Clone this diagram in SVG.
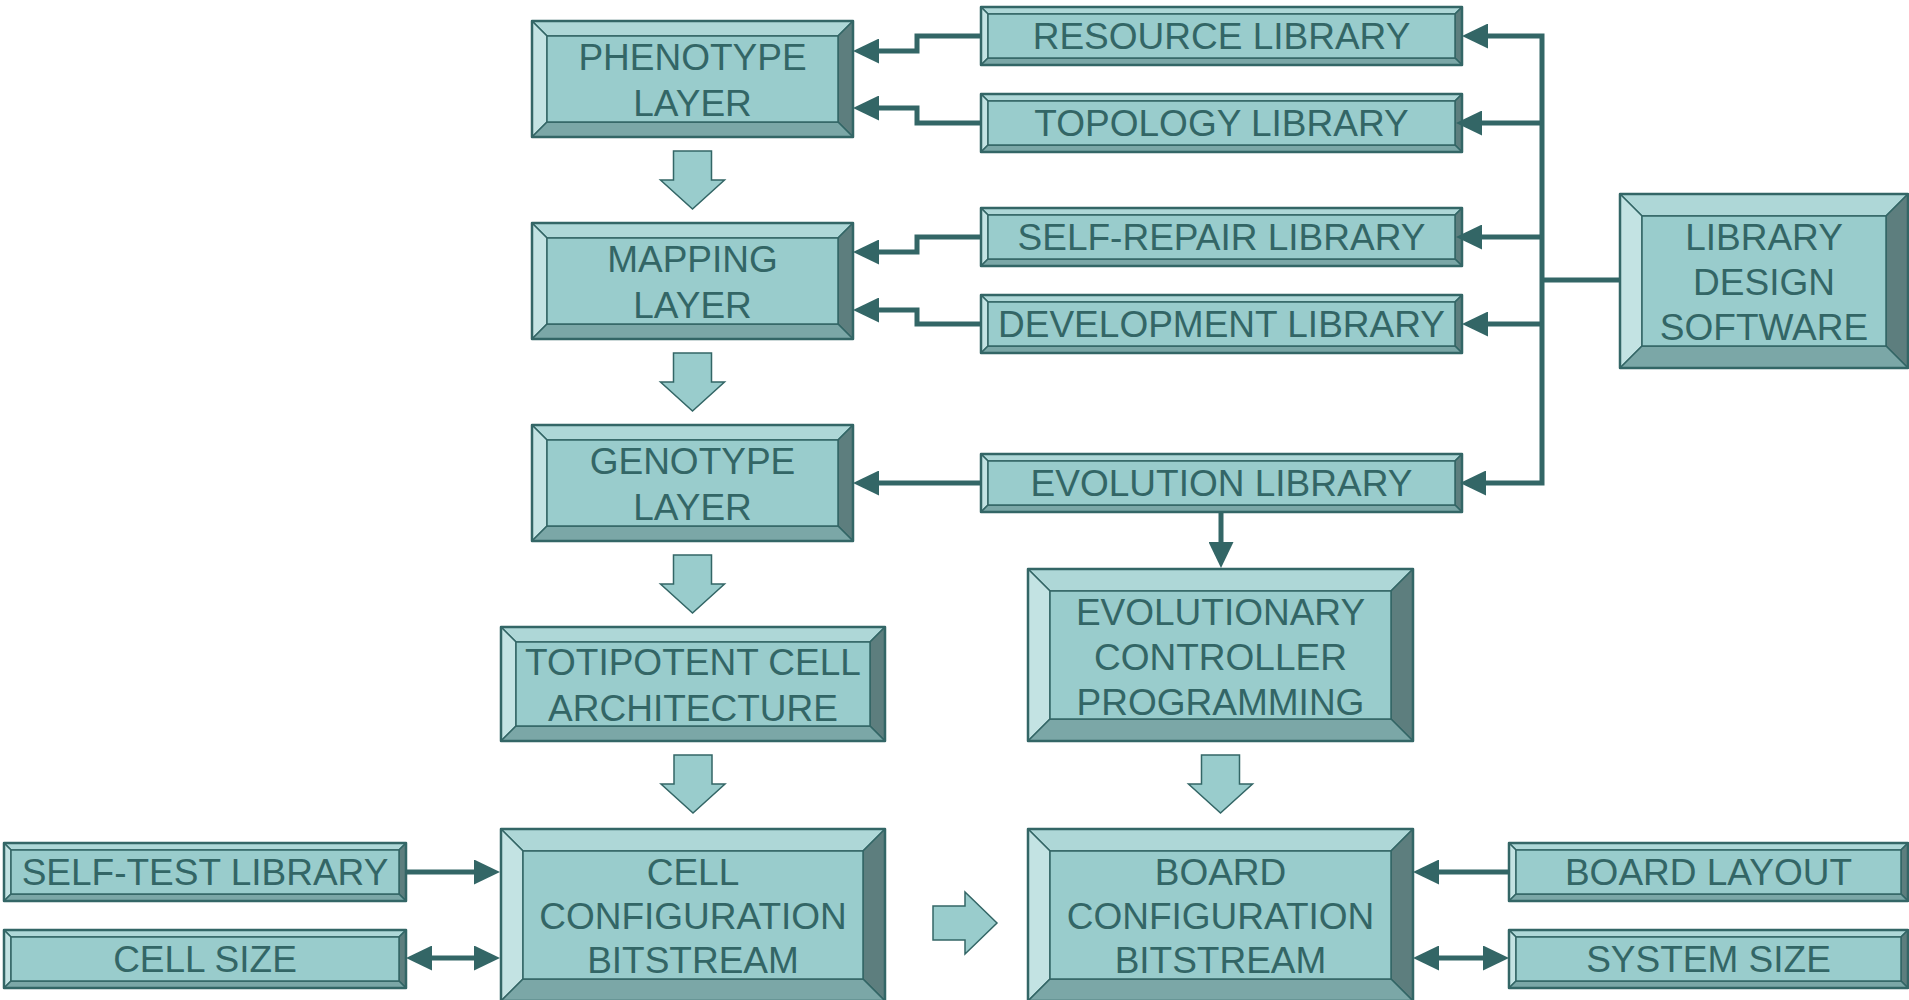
<svg xmlns="http://www.w3.org/2000/svg" width="1909" height="1000" viewBox="0 0 1909 1000">
  <style>
    .t { fill: #AED7D7; }
    .l { fill: #C3E3E3; }
    .r { fill: #5D7E7E; }
    .b { fill: #7BA7A7; }
    .f { fill: #99CCCC; }
    .node path, .node rect { stroke: #336666; stroke-width: 1.5; stroke-linejoin: round; }
    .node rect.o { fill: none; stroke-width: 2.5; }
    .node text { font-family: "Liberation Sans", Arial, sans-serif; font-size: 37px; fill: #336666; text-anchor: middle; }
    .flow { fill: #99CCCC; stroke: #336666; stroke-width: 1.5; stroke-linejoin: miter; }
    .conn path { fill: none; stroke: #336666; stroke-width: 5; }
    .conn .a { marker-end: url(#arrow); }
    .conn .aa { marker-start: url(#arrow); marker-end: url(#arrow); }
  </style>
  <defs>
    <marker id="arrow" viewBox="0 0 26 25" refX="16" refY="12.5" markerWidth="26" markerHeight="25" markerUnits="userSpaceOnUse" orient="auto-start-reverse">
      <path d="M0,0 L26,12.5 L0,25 z" fill="#336666"/>
    </marker>
  </defs>

  <rect width="1909" height="1000" fill="#ffffff"/>

  <!-- Main chain, left column -->
  <g id="phenotype-layer" class="node">
    <path class="t" d="M532,21 H853 L838,36 H547 Z"/>
    <path class="l" d="M532,21 L547,36 V122 L532,137 Z"/>
    <path class="r" d="M853,21 V137 L838,122 V36 Z"/>
    <path class="b" d="M532,137 L547,122 H838 L853,137 Z"/>
    <rect class="f" x="547" y="36" width="291" height="86"/>
    <rect class="o" x="532" y="21" width="321" height="116"/>
    <text x="692.5" y="70">PHENOTYPE</text>
    <text x="692.5" y="116">LAYER</text>
  </g>

  <g id="mapping-layer" class="node">
    <path class="t" d="M532,223 H853 L838,238 H547 Z"/>
    <path class="l" d="M532,223 L547,238 V324 L532,339 Z"/>
    <path class="r" d="M853,223 V339 L838,324 V238 Z"/>
    <path class="b" d="M532,339 L547,324 H838 L853,339 Z"/>
    <rect class="f" x="547" y="238" width="291" height="86"/>
    <rect class="o" x="532" y="223" width="321" height="116"/>
    <text x="692.5" y="272">MAPPING</text>
    <text x="692.5" y="318">LAYER</text>
  </g>

  <g id="genotype-layer" class="node">
    <path class="t" d="M532,425 H853 L838,440 H547 Z"/>
    <path class="l" d="M532,425 L547,440 V526 L532,541 Z"/>
    <path class="r" d="M853,425 V541 L838,526 V440 Z"/>
    <path class="b" d="M532,541 L547,526 H838 L853,541 Z"/>
    <rect class="f" x="547" y="440" width="291" height="86"/>
    <rect class="o" x="532" y="425" width="321" height="116"/>
    <text x="692.5" y="474">GENOTYPE</text>
    <text x="692.5" y="520">LAYER</text>
  </g>

  <g id="totipotent-cell-architecture" class="node">
    <path class="t" d="M501,627 H885 L870,642 H516 Z"/>
    <path class="l" d="M501,627 L516,642 V726 L501,741 Z"/>
    <path class="r" d="M885,627 V741 L870,726 V642 Z"/>
    <path class="b" d="M501,741 L516,726 H870 L885,741 Z"/>
    <rect class="f" x="516" y="642" width="354" height="84"/>
    <rect class="o" x="501" y="627" width="384" height="114"/>
    <text x="693" y="675">TOTIPOTENT CELL</text>
    <text x="693" y="721">ARCHITECTURE</text>
  </g>

  <g id="cell-configuration-bitstream" class="node">
    <path class="t" d="M501,829 H885 L863,851 H523 Z"/>
    <path class="l" d="M501,829 L523,851 V979 L501,1001 Z"/>
    <path class="r" d="M885,829 V1001 L863,979 V851 Z"/>
    <path class="b" d="M501,1001 L523,979 H863 L885,1001 Z"/>
    <rect class="f" x="523" y="851" width="340" height="128"/>
    <rect class="o" x="501" y="829" width="384" height="172"/>
    <text x="693" y="885">CELL</text>
    <text x="693" y="929">CONFIGURATION</text>
    <text x="693" y="973">BITSTREAM</text>
  </g>

  <!-- Right column -->
  <g id="evolutionary-controller-programming" class="node">
    <path class="t" d="M1028,569 H1413 L1391,591 H1050 Z"/>
    <path class="l" d="M1028,569 L1050,591 V719 L1028,741 Z"/>
    <path class="r" d="M1413,569 V741 L1391,719 V591 Z"/>
    <path class="b" d="M1028,741 L1050,719 H1391 L1413,741 Z"/>
    <rect class="f" x="1050" y="591" width="341" height="128"/>
    <rect class="o" x="1028" y="569" width="385" height="172"/>
    <text x="1220.5" y="625">EVOLUTIONARY</text>
    <text x="1220.5" y="670">CONTROLLER</text>
    <text x="1220.5" y="715">PROGRAMMING</text>
  </g>

  <g id="board-configuration-bitstream" class="node">
    <path class="t" d="M1028,829 H1413 L1391,851 H1050 Z"/>
    <path class="l" d="M1028,829 L1050,851 V979 L1028,1001 Z"/>
    <path class="r" d="M1413,829 V1001 L1391,979 V851 Z"/>
    <path class="b" d="M1028,1001 L1050,979 H1391 L1413,1001 Z"/>
    <rect class="f" x="1050" y="851" width="341" height="128"/>
    <rect class="o" x="1028" y="829" width="385" height="172"/>
    <text x="1220.5" y="885">BOARD</text>
    <text x="1220.5" y="929">CONFIGURATION</text>
    <text x="1220.5" y="973">BITSTREAM</text>
  </g>

  <g id="library-design-software" class="node">
    <path class="t" d="M1620,194 H1908 L1886,216 H1642 Z"/>
    <path class="l" d="M1620,194 L1642,216 V346 L1620,368 Z"/>
    <path class="r" d="M1908,194 V368 L1886,346 V216 Z"/>
    <path class="b" d="M1620,368 L1642,346 H1886 L1908,368 Z"/>
    <rect class="f" x="1642" y="216" width="244" height="130"/>
    <rect class="o" x="1620" y="194" width="288" height="174"/>
    <text x="1764" y="250">LIBRARY</text>
    <text x="1764" y="295">DESIGN</text>
    <text x="1764" y="340">SOFTWARE</text>
  </g>

  <!-- Libraries -->
  <g id="resource-library" class="node">
    <path class="t" d="M981,7 H1462 L1455,14 H988 Z"/>
    <path class="l" d="M981,7 L988,14 V58 L981,65 Z"/>
    <path class="r" d="M1462,7 V65 L1455,58 V14 Z"/>
    <path class="b" d="M981,65 L988,58 H1455 L1462,65 Z"/>
    <rect class="f" x="988" y="14" width="467" height="44"/>
    <rect class="o" x="981" y="7" width="481" height="58"/>
    <text x="1221.5" y="49">RESOURCE LIBRARY</text>
  </g>

  <g id="topology-library" class="node">
    <path class="t" d="M981,94 H1462 L1455,101 H988 Z"/>
    <path class="l" d="M981,94 L988,101 V145 L981,152 Z"/>
    <path class="r" d="M1462,94 V152 L1455,145 V101 Z"/>
    <path class="b" d="M981,152 L988,145 H1455 L1462,152 Z"/>
    <rect class="f" x="988" y="101" width="467" height="44"/>
    <rect class="o" x="981" y="94" width="481" height="58"/>
    <text x="1221.5" y="136">TOPOLOGY LIBRARY</text>
  </g>

  <g id="self-repair-library" class="node">
    <path class="t" d="M981,208 H1462 L1455,215 H988 Z"/>
    <path class="l" d="M981,208 L988,215 V259 L981,266 Z"/>
    <path class="r" d="M1462,208 V266 L1455,259 V215 Z"/>
    <path class="b" d="M981,266 L988,259 H1455 L1462,266 Z"/>
    <rect class="f" x="988" y="215" width="467" height="44"/>
    <rect class="o" x="981" y="208" width="481" height="58"/>
    <text x="1221.5" y="250">SELF-REPAIR LIBRARY</text>
  </g>

  <g id="development-library" class="node">
    <path class="t" d="M981,295 H1462 L1455,302 H988 Z"/>
    <path class="l" d="M981,295 L988,302 V346 L981,353 Z"/>
    <path class="r" d="M1462,295 V353 L1455,346 V302 Z"/>
    <path class="b" d="M981,353 L988,346 H1455 L1462,353 Z"/>
    <rect class="f" x="988" y="302" width="467" height="44"/>
    <rect class="o" x="981" y="295" width="481" height="58"/>
    <text x="1221.5" y="337">DEVELOPMENT LIBRARY</text>
  </g>

  <g id="evolution-library" class="node">
    <path class="t" d="M981,454 H1462 L1455,461 H988 Z"/>
    <path class="l" d="M981,454 L988,461 V505 L981,512 Z"/>
    <path class="r" d="M1462,454 V512 L1455,505 V461 Z"/>
    <path class="b" d="M981,512 L988,505 H1455 L1462,512 Z"/>
    <rect class="f" x="988" y="461" width="467" height="44"/>
    <rect class="o" x="981" y="454" width="481" height="58"/>
    <text x="1221.5" y="496">EVOLUTION LIBRARY</text>
  </g>

  <g id="self-test-library" class="node">
    <path class="t" d="M4,843 H406 L399,850 H11 Z"/>
    <path class="l" d="M4,843 L11,850 V894 L4,901 Z"/>
    <path class="r" d="M406,843 V901 L399,894 V850 Z"/>
    <path class="b" d="M4,901 L11,894 H399 L406,901 Z"/>
    <rect class="f" x="11" y="850" width="388" height="44"/>
    <rect class="o" x="4" y="843" width="402" height="58"/>
    <text x="205" y="885">SELF-TEST LIBRARY</text>
  </g>

  <g id="cell-size" class="node">
    <path class="t" d="M4,930 H406 L399,937 H11 Z"/>
    <path class="l" d="M4,930 L11,937 V981 L4,988 Z"/>
    <path class="r" d="M406,930 V988 L399,981 V937 Z"/>
    <path class="b" d="M4,988 L11,981 H399 L406,988 Z"/>
    <rect class="f" x="11" y="937" width="388" height="44"/>
    <rect class="o" x="4" y="930" width="402" height="58"/>
    <text x="205" y="972">CELL SIZE</text>
  </g>

  <g id="board-layout" class="node">
    <path class="t" d="M1509,843 H1908 L1901,850 H1516 Z"/>
    <path class="l" d="M1509,843 L1516,850 V894 L1509,901 Z"/>
    <path class="r" d="M1908,843 V901 L1901,894 V850 Z"/>
    <path class="b" d="M1509,901 L1516,894 H1901 L1908,901 Z"/>
    <rect class="f" x="1516" y="850" width="385" height="44"/>
    <rect class="o" x="1509" y="843" width="399" height="58"/>
    <text x="1708.5" y="885">BOARD LAYOUT</text>
  </g>

  <g id="system-size" class="node">
    <path class="t" d="M1509,930 H1908 L1901,937 H1516 Z"/>
    <path class="l" d="M1509,930 L1516,937 V981 L1509,988 Z"/>
    <path class="r" d="M1908,930 V988 L1901,981 V937 Z"/>
    <path class="b" d="M1509,988 L1516,981 H1901 L1908,988 Z"/>
    <rect class="f" x="1516" y="937" width="385" height="44"/>
    <rect class="o" x="1509" y="930" width="399" height="58"/>
    <text x="1708.5" y="972">SYSTEM SIZE</text>
  </g>

  <!-- Block flow arrows between stages -->
  <g id="flow-arrows">
    <path class="flow" d="M673.5,151 H711.5 V180 H724.5 L692.5,209 L660.5,180 H673.5 Z"/>
    <path class="flow" d="M673.5,353 H711.5 V382 H724.5 L692.5,411 L660.5,382 H673.5 Z"/>
    <path class="flow" d="M673.5,555 H711.5 V584 H724.5 L692.5,613 L660.5,584 H673.5 Z"/>
    <path class="flow" d="M674,755 H712 V784 H725 L693,813 L661,784 H674 Z"/>
    <path class="flow" d="M1201.5,755 H1239.5 V784 H1252.5 L1220.5,813 L1188.5,784 H1201.5 Z"/>
    <path class="flow" d="M933,906 H965 V892 L997,923 L965,954 V940 H933 Z"/>
  </g>

  <!-- Connectors -->
  <g id="connectors" class="conn">
    <!-- libraries to the layer stack -->
    <path class="a" d="M981,36 H917 V51 H863"/>
    <path class="a" d="M981,123 H917 V108 H863"/>
    <path class="a" d="M981,237 H917 V252 H863"/>
    <path class="a" d="M981,324 H917 V310 H863"/>
    <path class="a" d="M981,483 H863"/>
    <!-- design software bus feeding every library -->
    <path class="aa" d="M1472,36 H1542 V483 H1470"/>
    <path class="a" d="M1542,123 H1466"/>
    <path class="a" d="M1542,237 H1466"/>
    <path class="a" d="M1542,324 H1472"/>
    <path d="M1620,280 H1542"/>
    <!-- evolution library to controller -->
    <path class="a" d="M1221,512 V558"/>
    <!-- bottom row inputs -->
    <path class="a" d="M406,872 H490"/>
    <path class="aa" d="M416,958 H490"/>
    <path class="a" d="M1509,872 H1423"/>
    <path class="aa" d="M1499,958 H1423"/>
  </g>
</svg>
